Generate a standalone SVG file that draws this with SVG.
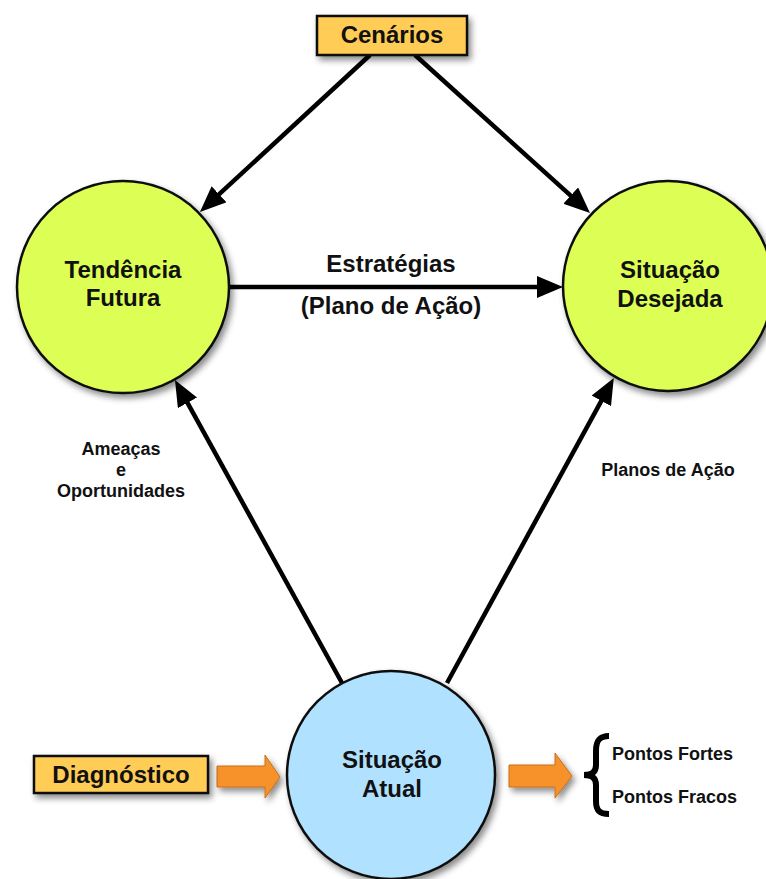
<svg xmlns="http://www.w3.org/2000/svg" width="766" height="879" viewBox="0 0 766 879">
<defs>
<filter id="sh" x="-20%" y="-20%" width="150%" height="150%">
<feDropShadow dx="3" dy="4" stdDeviation="3" flood-color="#000" flood-opacity="0.45"/>
</filter>
<marker id="ah" markerUnits="userSpaceOnUse" markerWidth="28" markerHeight="22" refX="16" refY="11" orient="auto" viewBox="0 0 28 22">
<path d="M0,0 L26,11 L0,22 Z" fill="#000"/>
</marker>
<style>
.t{font-family:"Liberation Sans",Arial,sans-serif;font-weight:bold;fill:#111;text-anchor:middle}
.big{font-size:24px}
.sm{font-size:18px}
.box{fill:#FFCC55;stroke:#111;stroke-width:2.5}
.yc{fill:#DDFF55;stroke:#111;stroke-width:2.5}
.bc{fill:#B0E2FF;stroke:#111;stroke-width:2.5}
.edge{stroke:#000;stroke-width:4.5;fill:none;marker-end:url(#ah)}
.oa{fill:#F7922A;stroke:#C86E18;stroke-width:1}
</style>
</defs>
<rect width="766" height="879" fill="#fff"/>
<g id="connectors">
<line class="edge" x1="370" y1="55" x2="207.3" y2="205.2"/>
<line class="edge" x1="415" y1="55" x2="582.6" y2="206.3"/>
<line class="edge" x1="230" y1="287" x2="553" y2="287"/>
<line class="edge" x1="342" y1="683" x2="179.8" y2="388.8"/>
<line class="edge" x1="447" y1="683" x2="609" y2="386.8"/>
<polygon class="oa" filter="url(#sh)" points="217,766 265,766 265,755 280,777 265,798 265,787 217,787"/>
<polygon class="oa" filter="url(#sh)" points="509,765 555,765 555,753 572,776 555,798 555,787 509,787"/>
</g>
<g id="cenarios">
<rect class="box" filter="url(#sh)" x="317" y="16" width="150" height="39"/>
<text class="t big" x="392" y="43">Cenários</text>
</g>
<g id="tendencia">
<circle class="yc" filter="url(#sh)" cx="123" cy="287" r="106"/>
<text class="t big" x="123" y="278">Tendência</text>
<text class="t big" x="123" y="306">Futura</text>
</g>
<g id="desejada">
<circle class="yc" filter="url(#sh)" cx="668" cy="286" r="105"/>
<text class="t big" x="670" y="278">Situação</text>
<text class="t big" x="670" y="307">Desejada</text>
</g>
<g id="atual">
<circle class="bc" filter="url(#sh)" cx="391" cy="775" r="104"/>
<text class="t big" x="392" y="768">Situação</text>
<text class="t big" x="392" y="797">Atual</text>
</g>
<g id="diagnostico">
<rect class="box" filter="url(#sh)" x="34" y="756" width="174" height="37"/>
<text class="t big" x="121" y="783">Diagnóstico</text>
</g>
<g id="labels">
<text class="t big" x="391" y="272">Estratégias</text>
<text class="t big" x="391" y="314">(Plano de Ação)</text>
<text class="t sm" x="121" y="455">Ameaças</text>
<text class="t sm" x="121" y="476">e</text>
<text class="t sm" x="121" y="497">Oportunidades</text>
<text class="t sm" x="668" y="476">Planos de Ação</text>
</g>
<g id="pontos">
<path d="M609,736 C599,736 596,741 596,751 L596,765 C596,772 592,775 584,775 C592,775 596,778 596,785 L596,801 C596,810 599,814 609,814" fill="none" stroke="#000" stroke-width="6"/>
<text class="t sm" x="612" y="760" style="text-anchor:start">Pontos Fortes</text>
<text class="t sm" x="612" y="803" style="text-anchor:start">Pontos Fracos</text>
</g>
</svg>
